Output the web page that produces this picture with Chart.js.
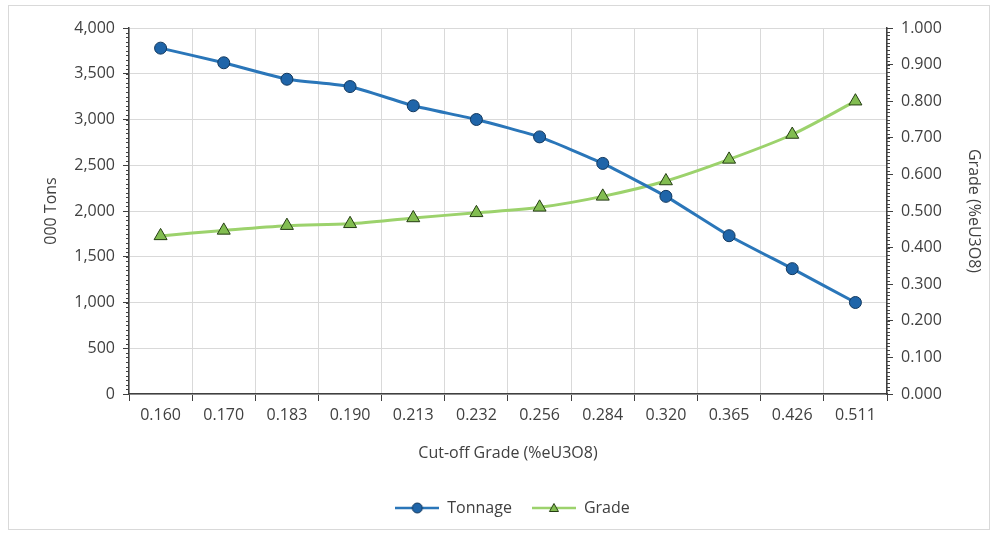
<!DOCTYPE html>
<html>
<head>
<meta charset="utf-8">
<script src="https://cdn.jsdelivr.net/npm/chart.js@4.4.1/dist/chart.umd.min.js"></script>
<style>
  html, body { margin: 0; padding: 0; background: #fff; }
  #frame { position: absolute; left: 8px; top: 5px; width: 982px; height: 525px; border: 1px solid #d9d9d9; box-sizing: border-box; }
  #box { position: absolute; left: 0; top: 0; width: 997px; height: 535px; }
</style>
</head>
<body>
<div id="frame"></div>
<div id="box"><canvas id="myChart"></canvas></div>
<script>
// --- data ---
const cutoffGrades = ['0.160', '0.170', '0.183', '0.190', '0.213', '0.232', '0.256', '0.284', '0.320', '0.365', '0.426', '0.511'];
const tonnage = [3780, 3620, 3440, 3360, 3150, 3000, 2810, 2520, 2160, 1730, 1370, 1000];
const grade = [0.432, 0.447, 0.460, 0.465, 0.481, 0.495, 0.510, 0.540, 0.582, 0.641, 0.709, 0.800];

const FONT = "'Open Sans', 'Noto Sans', sans-serif";
const TEXT = '#404040';
const AXIS = '#404040';
const GRID = '#d9d9d9';

const TON_LINE = '#2a76b9', TON_FILL = '#1f65a9', TON_EDGE = '#12385e';
const GR_LINE = '#9cd26c', GR_FILL = '#82bd51', GR_EDGE = '#243d12';

// legend swatch: short line with the marker on it, like Excel does
function legendSwatch(kind) {
    const c = document.createElement('canvas');
    c.width = 44; c.height = 14;
    const g = c.getContext('2d');
    g.lineWidth = 2.5;
    g.strokeStyle = kind === 'circle' ? TON_LINE : GR_LINE;
    g.beginPath(); g.moveTo(0, 7); g.lineTo(44, 7); g.stroke();
    g.lineWidth = 1;
    if (kind === 'circle') {
        g.fillStyle = TON_FILL; g.strokeStyle = TON_EDGE;
        g.beginPath(); g.arc(22, 7, 5, 0, Math.PI * 2); g.fill(); g.stroke();
    } else {
        g.fillStyle = GR_FILL; g.strokeStyle = GR_EDGE;
        g.beginPath(); g.moveTo(22, 2.5); g.lineTo(26.5, 10.5); g.lineTo(17.5, 10.5); g.closePath(); g.fill(); g.stroke();
    }
    return c;
}

// minor tick marks on both value axes
const minorTicks = {
    id: 'minorTicks',
    afterDraw(chart) {
        const ctx = chart.ctx;
        const yl = chart.scales.y, yr = chart.scales.y1;
        ctx.save();
        ctx.strokeStyle = AXIS;
        ctx.lineWidth = 1;
        for (let v = 0; v <= 4000; v += 50) {
            const p = Math.round(yl.getPixelForValue(v)) + 0.5;
            ctx.beginPath(); ctx.moveTo(yl.right - 3, p); ctx.lineTo(yl.right, p); ctx.stroke();
        }
        for (let i = 0; i <= 100; i++) {
            const p = Math.round(yr.getPixelForValue(i / 100)) + 0.5;
            ctx.beginPath(); ctx.moveTo(yr.left, p); ctx.lineTo(yr.left + 3, p); ctx.stroke();
        }
        ctx.restore();
    }
};

const ctx = document.getElementById('myChart');

new Chart(ctx, {
    type: 'line',
    data: {
        labels: cutoffGrades,
        datasets: [
            {
                label: 'Tonnage',
                data: tonnage,
                yAxisID: 'y',
                borderColor: TON_LINE,
                borderWidth: 3,
                tension: 0.15,
                pointStyle: 'circle',
                pointRadius: 6,
                pointBackgroundColor: TON_FILL,
                pointBorderColor: TON_EDGE,
                pointBorderWidth: 1
            },
            {
                label: 'Grade',
                data: grade,
                yAxisID: 'y1',
                borderColor: GR_LINE,
                borderWidth: 3,
                tension: 0.3,
                pointStyle: 'triangle',
                pointRadius: 7.5,
                pointBackgroundColor: GR_FILL,
                pointBorderColor: GR_EDGE,
                pointBorderWidth: 1
            }
        ]
    },
    options: {
        responsive: true,
        maintainAspectRatio: false,
        animation: false,
        layout: { padding: { top: 28, left: 38, right: 10, bottom: 9 } },
        font: { family: FONT },
        scales: {
            x: {
                offset: true,
                grid: { offset: true, color: GRID, tickColor: AXIS, tickLength: 7 },
                border: { color: AXIS, width: 1.5 },
                ticks: { color: TEXT, font: { family: FONT, size: 16 }, padding: 5, maxRotation: 0 },
                title: { display: true, text: 'Cut-off Grade (%eU3O8)', color: TEXT, font: { family: FONT, size: 16 }, padding: { top: 0, bottom: 17 } },
                afterFit: s => { s.height = 86; }
            },
            y: {
                position: 'left',
                min: 0, max: 4000,
                ticks: { stepSize: 500, color: TEXT, font: { family: FONT, size: 16 }, padding: 8,
                    callback: v => v.toLocaleString('en-US') },
                grid: { color: GRID, tickColor: AXIS, tickLength: 6 },
                border: { color: AXIS, width: 1.5 },
                title: { display: true, text: '000 Tons', color: TEXT, font: { family: FONT, size: 16 } },
                afterFit: s => { s.width = 91; }
            },
            y1: {
                position: 'right',
                min: 0, max: 1,
                ticks: { stepSize: 0.1, color: TEXT, font: { family: FONT, size: 16 }, padding: 8,
                    callback: v => v.toFixed(3) },
                grid: { drawOnChartArea: false, tickColor: AXIS, tickLength: 6 },
                border: { color: AXIS, width: 1.5 },
                title: { display: true, text: 'Grade (%eU3O8)', color: TEXT, font: { family: FONT, size: 16 } },
                afterFit: s => { s.width = 100; }
            }
        },
        plugins: {
            legend: {
                position: 'bottom',
                labels: {
                    usePointStyle: true,
                    pointStyleWidth: 44,
                    color: TEXT,
                    font: { family: FONT, size: 16 },
                    padding: 20,
                    generateLabels: chart => chart.data.datasets.map((ds, i) => ({
                        text: ds.label,
                        datasetIndex: i,
                        pointStyle: legendSwatch(i === 0 ? 'circle' : 'triangle'),
                        fontColor: TEXT,
                        lineWidth: 0,
                        strokeStyle: 'transparent',
                        fillStyle: 'transparent'
                    }))
                }
            },
            tooltip: { enabled: false }
        }
    },
    plugins: [minorTicks]
});
</script>
</body>
</html>
